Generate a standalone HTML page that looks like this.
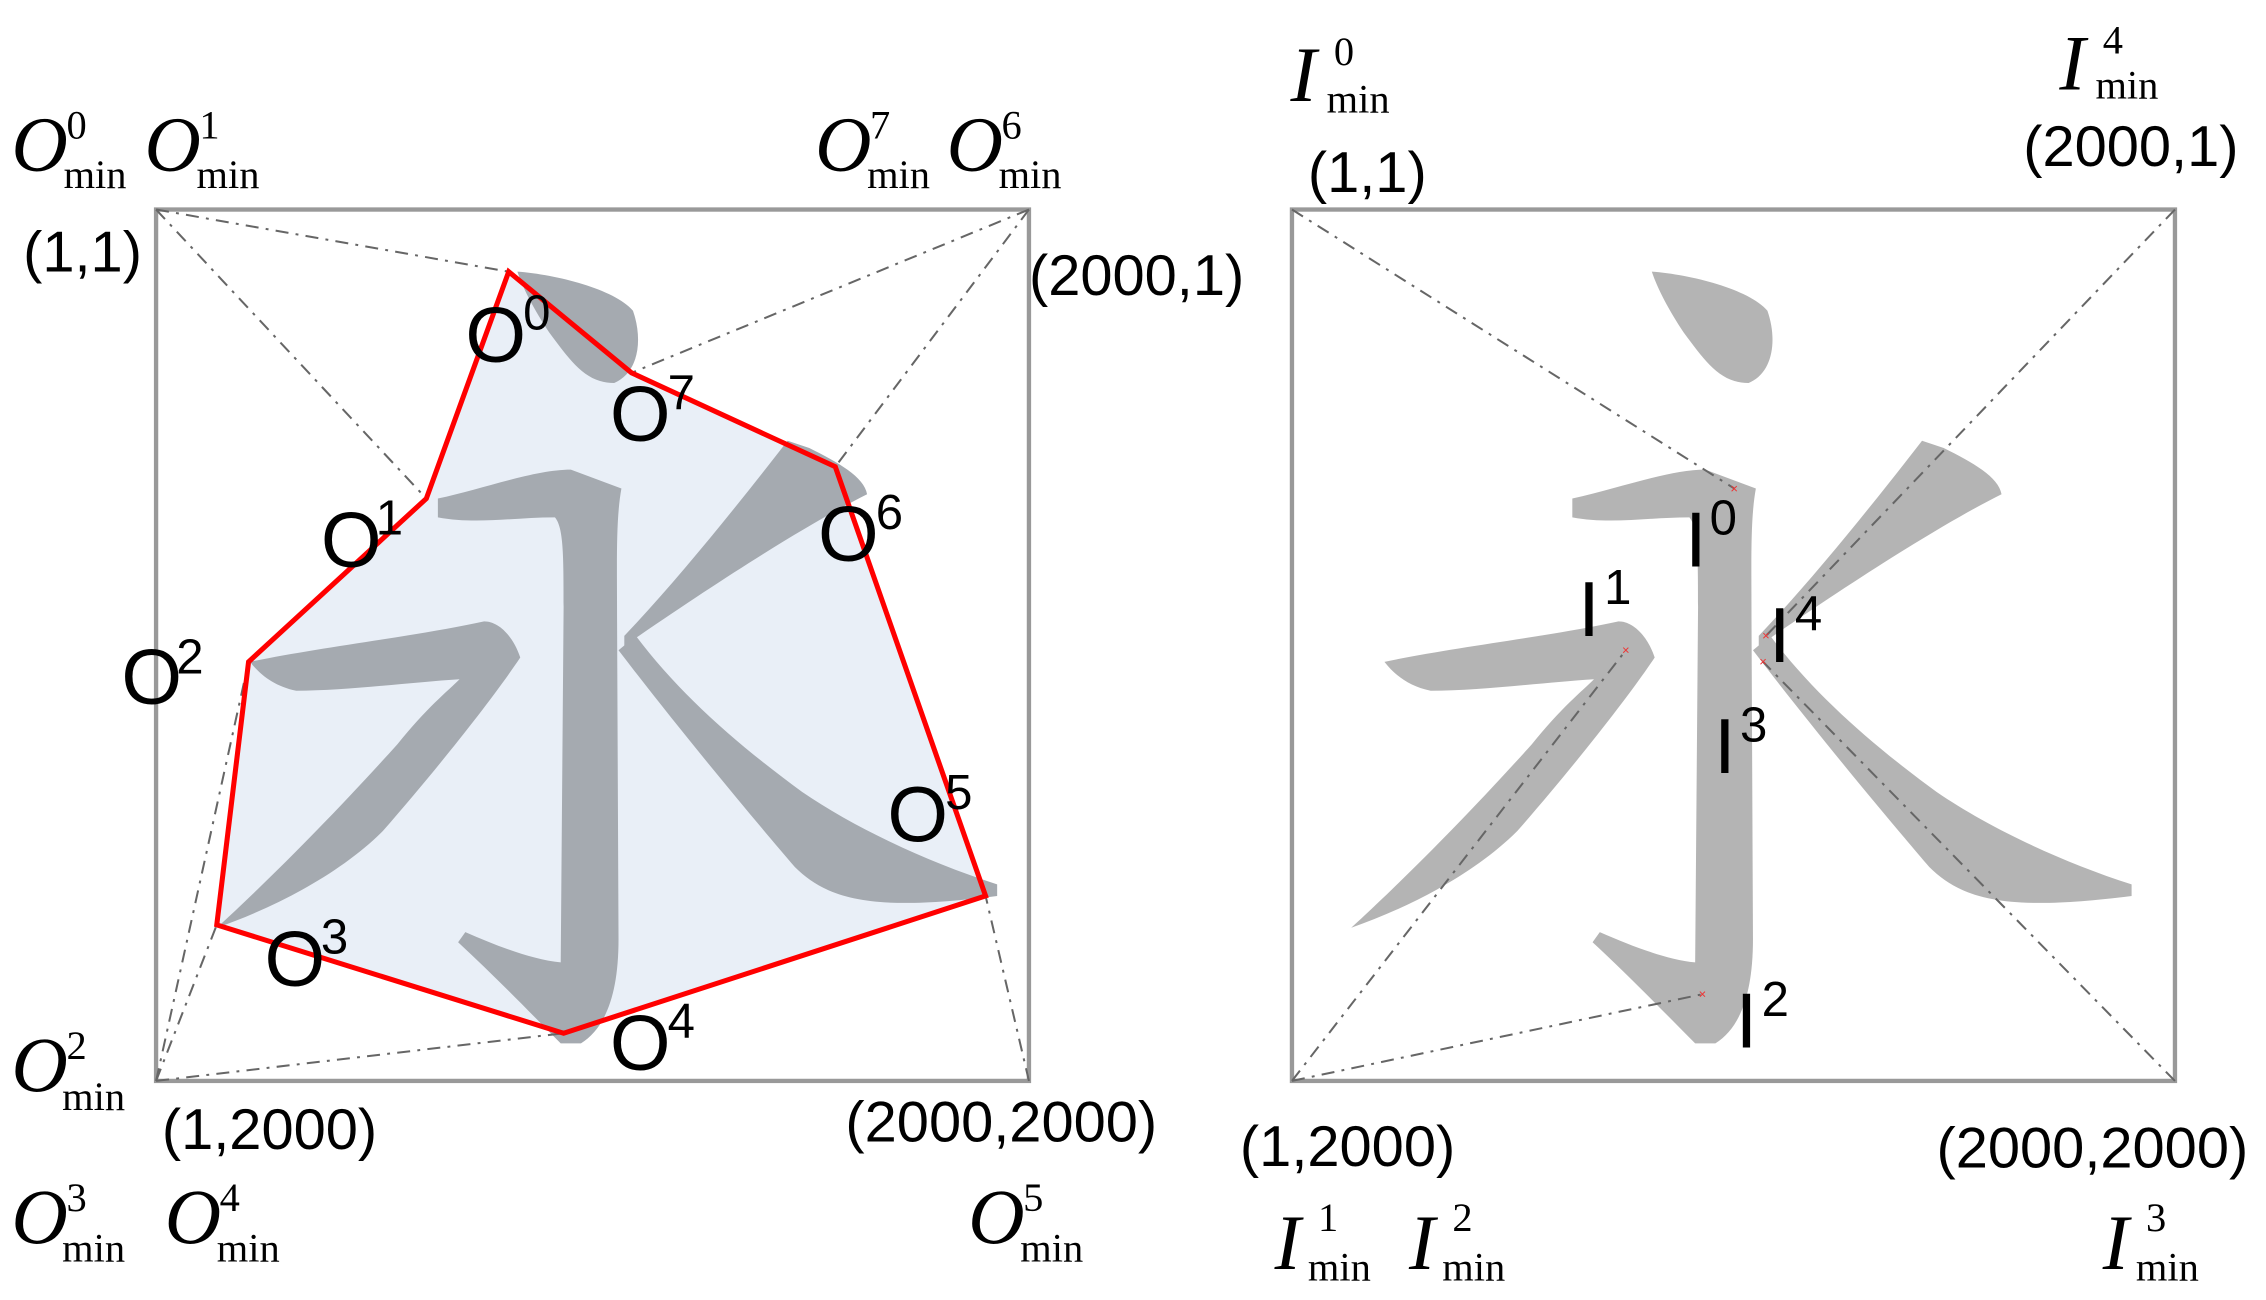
<!DOCTYPE html>
<html><head><meta charset="utf-8"><style>
html,body{margin:0;padding:0;background:#fff;}
svg{display:block;}
.s{font-family:"Liberation Sans",sans-serif;font-size:54px;fill:#000;}
.ss{font-family:"Liberation Sans",sans-serif;font-size:34px;fill:#000;}
.c{font-family:"Liberation Sans",sans-serif;font-size:40px;fill:#000;}
.m{font-family:"Liberation Serif",serif;font-style:italic;font-size:54px;fill:#000;}
.mm{font-family:"Liberation Serif",serif;font-size:28px;fill:#000;}
.d{stroke:#666;stroke-width:1.4;fill:none;stroke-dasharray:9 5 2 5;}
</style></head><body>
<svg width="2266" height="1300" viewBox="0 0 1568 899.6" preserveAspectRatio="none" xmlns="http://www.w3.org/2000/svg">
<defs>
<g id="ch">
<path d="M358,188 C385,190 425,200 438,215 C445,235 442,258 425,265 C405,265 395,250 380,230 C370,215 362,200 358,188 Z"/>
<path d="M303,345 C335,338 370,325 395,325 L430,338 C426,360 427,390 427,430 L428,650 C428,690 418,712 402,722 L388,722 C368,702 343,676 317,652 L322,645 C345,655 368,664 388,666 L390,420 C390,385 390,365 384,358 C355,358 330,363 303,358 Z"/>
<path d="M173,458 C220,448 290,440 335,430 C345,430 355,440 360,455 C340,485 300,535 265,575 C235,605 190,628 150,642 C185,610 230,565 275,515 C295,490 310,478 318,470 C285,472 240,478 205,478 C190,475 180,467 173,458 Z"/>
<path d="M432,440 C470,400 510,350 545,305 L560,310 C580,320 598,330 600,342 C560,362 500,400 432,447 Z"/>
<path d="M428,450 C470,505 520,565 550,600 C575,625 610,630 690,620 L690,612 C640,596 590,572 555,548 C510,515 470,480 440,440 Z"/>
</g>
</defs>
<rect x="108" y="145" width="604" height="603" fill="#fff" stroke="#999" stroke-width="3"/>
<polygon points="352,188 437,258 578,323 682,620 390,715 150,640 172,458 295,345" fill="#e9eff7"/>
<g fill="#a5aab0"><use href="#ch"/></g>
<g class="d">
<line x1="108" y1="145" x2="352" y2="188"/><line x1="108" y1="145" x2="295" y2="345"/>
<line x1="712" y1="145" x2="437" y2="258"/><line x1="712" y1="145" x2="578" y2="323"/>
<line x1="108" y1="748" x2="172" y2="458"/><line x1="108" y1="748" x2="150" y2="640"/>
<line x1="108" y1="748" x2="390" y2="715"/><line x1="712" y1="748" x2="682" y2="620"/>
</g>
<polygon points="352,188 437,258 578,323 682,620 390,715 150,640 172,458 295,345" fill="none" stroke="#f00" stroke-width="3.5"/>
<text class="s" x="322" y="250">O</text><text class="ss" x="362" y="228">0</text>
<text class="s" x="422" y="305">O</text><text class="ss" x="462" y="283">7</text>
<text class="s" x="222" y="392">O</text><text class="ss" x="260" y="370">1</text>
<text class="s" x="566" y="388">O</text><text class="ss" x="606" y="366">6</text>
<text class="s" x="84" y="487">O</text><text class="ss" x="122" y="466">2</text>
<text class="s" x="614" y="582">O</text><text class="ss" x="654" y="560">5</text>
<text class="s" x="183" y="682">O</text><text class="ss" x="222" y="660">3</text>
<text class="s" x="422" y="740">O</text><text class="ss" x="462" y="718">4</text>
<g>
<text class="m" x="8" y="118">O</text><text class="mm" x="46" y="96">0</text><text class="mm" x="44" y="130">min</text>
<text class="m" x="100" y="118">O</text><text class="mm" x="138" y="96">1</text><text class="mm" x="136" y="130">min</text>
<text class="m" x="564" y="118">O</text><text class="mm" x="602" y="96">7</text><text class="mm" x="600" y="130">min</text>
<text class="m" x="655" y="118">O</text><text class="mm" x="693" y="96">6</text><text class="mm" x="691" y="130">min</text>
<text class="m" x="8" y="755">O</text><text class="mm" x="46" y="733">2</text><text class="mm" x="43" y="768">min</text>
<text class="m" x="8" y="860">O</text><text class="mm" x="46" y="838">3</text><text class="mm" x="43" y="873">min</text>
<text class="m" x="114" y="860">O</text><text class="mm" x="152" y="838">4</text><text class="mm" x="150" y="873">min</text>
<text class="m" x="670" y="860">O</text><text class="mm" x="708" y="838">5</text><text class="mm" x="706" y="873">min</text>
</g>
<text class="c" x="16" y="188">(1,1)</text>
<text class="c" x="712" y="204">(2000,1)</text>
<text class="c" x="112" y="795">(1,2000)</text>
<text class="c" x="585" y="790">(2000,2000)</text>
<rect x="894" y="145" width="611" height="603" fill="#fff" stroke="#999" stroke-width="3"/>
<g fill="#b4b4b4" transform="translate(785,0)"><use href="#ch"/></g>
<g class="d">
<line x1="894" y1="145" x2="1200" y2="338"/>
<line x1="894" y1="748" x2="1125" y2="450"/>
<line x1="894" y1="748" x2="1178" y2="688"/>
<line x1="1505" y1="748" x2="1220" y2="458"/>
<line x1="1505" y1="145" x2="1222" y2="440"/>
</g>
<g fill="#e33" font-family="Liberation Sans" font-size="9" text-anchor="middle">
<text x="1200" y="341">×</text><text x="1125" y="453">×</text><text x="1178" y="691">×</text><text x="1220" y="461">×</text><text x="1222" y="443">×</text>
</g>
<text class="s" x="1166" y="392">I</text><text class="ss" x="1183" y="370">0</text>
<text class="s" x="1092" y="440">I</text><text class="ss" x="1110" y="418">1</text>
<text class="s" x="1224" y="458">I</text><text class="ss" x="1242" y="436">4</text>
<text class="s" x="1186" y="535">I</text><text class="ss" x="1204" y="513">3</text>
<text class="s" x="1201" y="725">I</text><text class="ss" x="1219" y="703">2</text>
<g>
<text class="m" x="893" y="70">I</text><text class="mm" x="923" y="45">0</text><text class="mm" x="918" y="78">min</text>
<text class="m" x="1425" y="62">I</text><text class="mm" x="1455" y="37">4</text><text class="mm" x="1450" y="68">min</text>
<text class="m" x="882" y="878">I</text><text class="mm" x="912" y="852">1</text><text class="mm" x="905" y="886">min</text>
<text class="m" x="975" y="878">I</text><text class="mm" x="1005" y="852">2</text><text class="mm" x="998" y="886">min</text>
<text class="m" x="1455" y="878">I</text><text class="mm" x="1485" y="852">3</text><text class="mm" x="1478" y="886">min</text>
</g>
<text class="c" x="905" y="133">(1,1)</text>
<text class="c" x="1400" y="115">(2000,1)</text>
<text class="c" x="858" y="807">(1,2000)</text>
<text class="c" x="1340" y="808">(2000,2000)</text>
</svg>
</body></html>
